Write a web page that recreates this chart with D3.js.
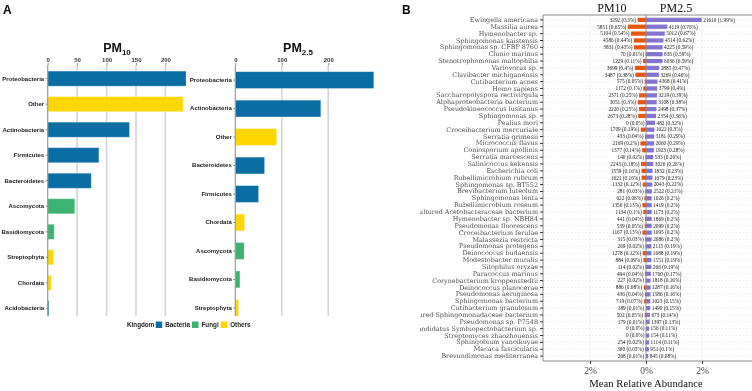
<!DOCTYPE html>
<html>
<head>
<meta charset="utf-8">
<script src="https://cdn.jsdelivr.net/npm/d3@7"></script>
<style>
  body { margin: 0; background: #fff; }
  svg { display: block; will-change: transform; }
  svg text { -webkit-font-smoothing: antialiased; }
</style>
</head>
<body>
<div id="wrapper"></div>
<script>
// panel A data
const phylaPM10 = ["Proteobacteria", "Other", "Actinobacteria", "Firmicutes", "Bacteroidetes",
    "Ascomycota", "Basidiomycota", "Streptophyta", "Chordata", "Acidobacteria"];
const countsPM10 = [235, 230, 139, 87, 74, 46, 11, 10, 6, 2];
const kingdomPM10 = ["Bacteria", "Others", "Bacteria", "Bacteria", "Bacteria",
    "Fungi", "Fungi", "Others", "Others", "Bacteria"];

const phylaPM25 = ["Proteobacteria", "Actinobacteria", "Other", "Bacteroidetes", "Firmicutes",
    "Chordata", "Ascomycota", "Basidiomycota", "Streptophyta"];
const countsPM25 = [298, 184, 89, 63, 50, 20, 19, 10, 7];
const kingdomPM25 = ["Bacteria", "Bacteria", "Others", "Bacteria", "Bacteria",
    "Others", "Fungi", "Fungi", "Others"];

const kingdoms = ["Bacteria", "Fungi", "Others"];
const kingdomColors = ["#0a6ea5", "#3cb371", "#ffd700"];

// panel B data
const species = ["Ewingella americana", "Massilia aurea", "Hymenobacter sp.", "Sphingomonas kaistensis",
    "Sphingomonas sp. CFBP 8760", "Clunio marinus", "Stenotrophomonas maltophilia", "Variovorax sp.",
    "Clavibacter michiganensis", "Cutibacterium acnes", "Homo sapiens", "Saccharopolyspora rectivirgula",
    "Alphaproteobacteria bacterium", "Pseudokineococcus lusitanus", "Sphingomonas sp.", "Pealius mori",
    "Croceibacterium mercuriale", "Serratia grimesii", "Micrococcus flavus", "Coniosporium apollinis",
    "Serratia marcescens", "Salinicoccus kekensis", "Escherichia coli", "Rubellimicrobium rubrum",
    "Sphingomonas sp. BT552", "Brevibacterium luteolum", "Sphingomonas lenta", "Rubellimicrobium roseum",
    "uncultured Acetobacteraceae bacterium", "Hymenobacter sp. NBH84", "Pseudomonas fluorescens",
    "Croceibacterium ferulae", "Malassezia restricta", "Pseudomonas protegens", "Deinococcus budaensis",
    "Modestobacter muralis", "Sitophilus oryzae", "Paracoccus marinus", "Corynebacterium kroppenstedtii",
    "Deinococcus planocerae", "Pseudomonas aeruginosa", "Sphingomonas bacterium", "Cutibacterium granulosum",
    "uncultured Sphingomonadaceae bacterium", "Pseudomonas sp. P7548", "Candidatus Symbiopectobacterium sp.",
    "Streptomyces zhaozhouensis", "Sphingobium yanoikuyae", "Macaca fascicularis", "Brevundimonas mediterranea"];
const pm10Reads = [3292, 5851, 5104, 4586, 3831, 70, 1229, 3699, 3487, 575, 1172, 2371, 3051, 2220, 2673, 0,
    1709, 433, 2169, 1377, 140, 2243, 1559, 1621, 1132, 281, 622, 1356, 1134, 441, 539, 1167, 315, 269,
    1278, 884, 114, 494, 227, 886, 436, 719, 189, 502, 179, 0, 0, 254, 300, 268];
const pm10Pct = [0.3, 0.65, 0.54, 0.44, 0.43, 0.01, 0.11, 0.4, 0.38, 0.05, 0.1, 0.25, 0.3, 0.25, 0.28, 0.0,
    0.19, 0.04, 0.2, 0.14, 0.02, 0.18, 0.16, 0.16, 0.12, 0.03, 0.06, 0.13, 0.1, 0.04, 0.05, 0.13, 0.03, 0.02,
    0.12, 0.09, 0.02, 0.04, 0.02, 0.08, 0.04, 0.07, 0.01, 0.05, 0.01, 0.0, 0.0, 0.02, 0.03, 0.01];
const pm25Reads = [21610, 4119, 5012, 4514, 4225, 835, 6036, 2885, 3269, 4368, 3799, 3219, 3108, 2498, 2354, 482,
    1622, 3181, 2660, 1923, 533, 3026, 1832, 1679, 2043, 2522, 1026, 1419, 1173, 1869, 2099, 1095, 2086, 2115,
    1688, 1551, 266, 1760, 1818, 1287, 1586, 1023, 1490, 673, 1397, 156, 154, 1114, 951, 845];
const pm25Pct = [1.99, 0.76, 0.67, 0.62, 0.59, 0.59, 0.59, 0.47, 0.46, 0.41, 0.4, 0.39, 0.38, 0.37, 0.36, 0.32,
    0.3, 0.29, 0.29, 0.28, 0.26, 0.26, 0.23, 0.23, 0.22, 0.21, 0.2, 0.2, 0.2, 0.2, 0.2, 0.2, 0.2, 0.19,
    0.19, 0.19, 0.19, 0.17, 0.16, 0.16, 0.16, 0.15, 0.15, 0.14, 0.13, 0.11, 0.11, 0.11, 0.1, 0.08];
const abundanceTicks = [-2, 0, 2];

const width = 752, height = 391;
const sans = "'Liberation Sans', Arial, sans-serif";
const serif = "'Liberation Serif', 'DejaVu Serif', serif";
const wideSerif = "'DejaVu Serif', 'Liberation Serif', serif";

const svg = d3.select("#wrapper").append("svg")
    .attr("width", width)
    .attr("height", height);

const colorScale = d3.scaleOrdinal().domain(kingdoms).range(kingdomColors);

// panel letters
svg.append("text").attr("x", 3).attr("y", 14).text("A")
    .attr("font-family", sans).attr("font-weight", "bold").attr("font-size", "12px");
svg.append("text").attr("x", 402).attr("y", 14).text("B")
    .attr("font-family", sans).attr("font-weight", "bold").attr("font-size", "12px");

// one horizontal bar panel for panel A
function drawPhyla(names, counts, kings, opts) {
    const g = svg.append("g");
    const x = d3.scaleLinear().domain([0, opts.max]).range([opts.x0, opts.x1]);
    const y = d3.scaleBand().domain(names).range([66, opts.yEnd])
        .paddingInner(0.41).paddingOuter(0.2);

    // grid lines
    g.append("g").selectAll("line")
        .data(opts.ticks.filter(d => d > 0))
        .join("line")
        .attr("x1", d => x(d)).attr("x2", d => x(d))
        .attr("y1", 65).attr("y2", 316)
        .attr("stroke", "#d4d4d4").attr("stroke-width", 1.6);

    g.append("g").selectAll("rect")
        .data(names)
        .join("rect")
        .attr("x", x(0))
        .attr("y", d => y(d))
        .attr("width", (d, i) => x(counts[i]) - x(0))
        .attr("height", y.bandwidth())
        .attr("fill", (d, i) => colorScale(kings[i]))
        .attr("stroke", "#fff").attr("stroke-opacity", 0.35).attr("stroke-width", 0.8);

    // zero axis
    g.append("line")
        .attr("x1", x(0)).attr("x2", x(0)).attr("y1", 65).attr("y2", 316)
        .attr("stroke", "#999").attr("stroke-width", 1.2);

    const xAxis = g.append("g")
        .attr("transform", `translate(0,65)`)
        .call(d3.axisTop(x).tickValues(opts.ticks).tickSize(2).tickPadding(1));
    xAxis.select(".domain").remove();
    xAxis.selectAll("line").attr("stroke", "#888");
    xAxis.selectAll("text").attr("font-family", sans).attr("font-size", "6px")
        .attr("font-weight", "bold").attr("fill", "#333");

    const yAxis = g.append("g")
        .attr("transform", `translate(${x(0)},0)`)
        .call(d3.axisLeft(y).tickSize(2).tickPadding(1.5));
    yAxis.select(".domain").remove();
    yAxis.selectAll("line").attr("stroke", "#888");
    yAxis.selectAll("text").attr("font-family", sans).attr("font-size", "6px")
        .attr("font-weight", "bold").attr("fill", "#222");

    const title = g.append("text")
        .attr("x", opts.titleX).attr("y", 52)
        .attr("text-anchor", "middle")
        .attr("font-family", sans).attr("font-weight", "bold").attr("font-size", "12.5px")
        .attr("fill", "#111");
    title.append("tspan").text("PM");
    title.append("tspan").text(opts.sub).attr("font-size", "8px").attr("dy", 3);
}

drawPhyla(phylaPM10, countsPM10, kingdomPM10,
    {max: 235, x0: 47.7, x1: 186, yEnd: 321, ticks: [0, 50, 100, 150, 200], titleX: 117, sub: "10"});
drawPhyla(phylaPM25, countsPM25, kingdomPM25,
    {max: 298, x0: 235.3, x1: 373.8, yEnd: 322, ticks: [0, 100, 200], titleX: 298, sub: "2.5"});

// legend
const legend = svg.append("g").attr("font-family", sans).attr("font-size", "6.3px")
    .attr("font-weight", "bold").attr("fill", "#222");
legend.append("text").attr("x", 127).attr("y", 327).text("Kingdom");
const legendX = [155.7, 192, 220.7];
kingdoms.forEach((k, i) => {
    legend.append("rect").attr("x", legendX[i]).attr("y", 321.5)
        .attr("width", 6.5).attr("height", 6.5).attr("fill", colorScale(k));
    legend.append("text").attr("x", legendX[i] + 9.5).attr("y", 327).text(k);
});

// panel B
const bLeft = 543, bRight = 760, bTop = 15, bBottom = 361;
const bx = d3.scaleLinear().domain([-3.68, 4.07]).range([bLeft, bRight]);
const by = d3.scaleBand().domain(species).range([bTop, bBottom]).paddingInner(0.38).paddingOuter(0.4);
const rowY = d => by(d) + by.bandwidth() / 2;

const clip = svg.append("clipPath").attr("id", "bclip");
clip.append("rect").attr("x", 420).attr("y", 0).attr("width", 340).attr("height", height);

const gb = svg.append("g").attr("clip-path", "url(#bclip)");

// dashed grid
gb.append("g").selectAll("line")
    .data(species)
    .join("line")
    .attr("x1", bLeft).attr("x2", bRight)
    .attr("y1", rowY).attr("y2", rowY)
    .attr("stroke", "#e2e2e2").attr("stroke-width", 0.6).attr("stroke-dasharray", "2,1.5");
gb.append("g").selectAll("line")
    .data(abundanceTicks.filter(d => d !== 0))
    .join("line")
    .attr("x1", d => bx(d)).attr("x2", d => bx(d))
    .attr("y1", bTop).attr("y2", bBottom)
    .attr("stroke", "#dcdcdc").attr("stroke-width", 0.7).attr("stroke-dasharray", "2,1.5");

// PM10 bars (left)
gb.append("g").selectAll("rect")
    .data(species)
    .join("rect")
    .attr("x", (d, i) => bx(-pm10Pct[i]))
    .attr("y", d => by(d))
    .attr("width", (d, i) => bx(0) - bx(-pm10Pct[i]))
    .attr("height", by.bandwidth())
    .attr("fill", "#e8560f");

// PM2.5 bars (right)
gb.append("g").selectAll("rect")
    .data(species)
    .join("rect")
    .attr("x", bx(0))
    .attr("y", d => by(d))
    .attr("width", (d, i) => bx(pm25Pct[i]) - bx(0))
    .attr("height", by.bandwidth())
    .attr("fill", "#8573d2");

// value labels
gb.append("g").selectAll("text")
    .data(species)
    .join("text")
    .attr("x", (d, i) => bx(-pm10Pct[i]) - 1.5)
    .attr("y", d => rowY(d) + 1.8)
    .attr("text-anchor", "end")
    .attr("font-family", serif).attr("font-size", "5.3px").attr("fill", "#222")
    .text((d, i) => `${pm10Reads[i]} (${pm10Pct[i] === 0 ? "0.0" : pm10Pct[i]}%)`);
gb.append("g").selectAll("text")
    .data(species)
    .join("text")
    .attr("x", (d, i) => bx(pm25Pct[i]) + 1.5)
    .attr("y", d => rowY(d) + 1.8)
    .attr("font-family", serif).attr("font-size", "5.3px").attr("fill", "#222")
    .text((d, i) => `${pm25Reads[i]} (${pm25Pct[i]}%)`);

// zero line
gb.append("line")
    .attr("x1", bx(0)).attr("x2", bx(0)).attr("y1", bTop).attr("y2", bBottom)
    .attr("stroke", "#8a8a8a").attr("stroke-width", 0.9);

// frame
gb.append("rect")
    .attr("x", bLeft).attr("y", bTop).attr("width", bRight - bLeft).attr("height", bBottom - bTop)
    .attr("fill", "none").attr("stroke", "#8a8a8a").attr("stroke-width", 1);

// y axis with species names
const byAxis = gb.append("g")
    .attr("transform", `translate(${bLeft},0)`)
    .call(d3.axisLeft(by).tickSize(3).tickPadding(2));
byAxis.select(".domain").remove();
byAxis.selectAll("line").attr("stroke", "#333");
byAxis.selectAll("text").attr("font-family", wideSerif).attr("font-size", "6.4px").attr("fill", "#4d4d4d");

// x axis
const bxAxis = gb.append("g")
    .attr("transform", `translate(0,${bBottom})`)
    .call(d3.axisBottom(bx).tickValues(abundanceTicks).tickSize(3).tickPadding(3)
        .tickFormat(d => Math.abs(d) + "%"));
bxAxis.select(".domain").remove();
bxAxis.selectAll("line").attr("stroke", "#333");
bxAxis.selectAll("text").attr("font-family", serif).attr("font-size", "9.5px").attr("fill", "#4d4d4d");

gb.append("text")
    .attr("x", bx(0)).attr("y", 387)
    .attr("text-anchor", "middle")
    .attr("font-family", serif).attr("font-size", "10.7px").attr("fill", "#111")
    .text("Mean Relative Abundance");

// series titles
gb.append("text").attr("x", bx(-1.22)).attr("y", 12).attr("text-anchor", "middle")
    .attr("font-family", serif).attr("font-size", "12px").attr("fill", "#111").text("PM10");
gb.append("text").attr("x", bx(1.07)).attr("y", 12).attr("text-anchor", "middle")
    .attr("font-family", serif).attr("font-size", "12px").attr("fill", "#111").text("PM2.5");
</script>
</body>
</html>
